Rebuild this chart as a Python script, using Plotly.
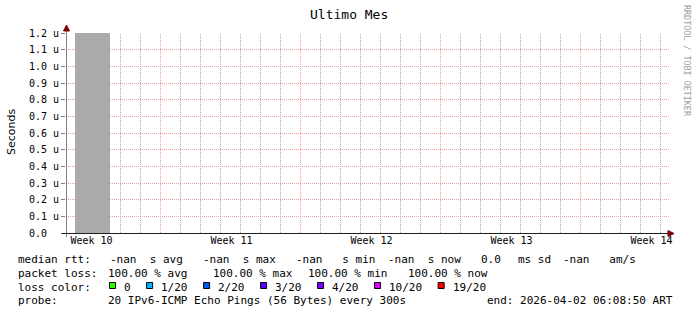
import plotly.graph_objects as go

# ---------------- data ----------------
title_text = "Ultimo Mes"
y_title = "Seconds"
y_ticks = [0.0, 0.1, 0.2, 0.3, 0.4, 0.5, 0.6, 0.7, 0.8, 0.9, 1.0, 1.1, 1.2]
y_tick_labels = ["0.0\u00a0\u00a0", "0.1 u", "0.2 u", "0.3 u", "0.4 u", "0.5 u", "0.6 u",
                 "0.7 u", "0.8 u", "0.9 u", "1.0 u", "1.1 u", "1.2 u"]
# x in days from the left edge of the graph
week_labels = ["Week 10", "Week 11", "Week 12", "Week 13", "Week 14"]
week_label_days = [1.25, 8.25, 15.25, 22.25, 29.25]
week_start_days = [4.7, 11.7, 18.7, 25.7]
day_grid_first = 0.7
n_day_lines = 30
x_range = [-0.025, 30.125]
y_top = 1.2
bar_start_day = [0.4]
bar_end_day = [2.15]
bar_value_us = [1.2]

legend_line1 = ["median rtt:", "-nan  s avg", "-nan  s max", "-nan   s min", "-nan  s now",
                "0.0", "ms sd", "-nan   am/s"]
legend_line2 = ["packet loss:", "100.00 % avg", "100.00 % max", "100.00 % min", "100.00 % now"]
loss_title = "loss color:"
loss_labels = ["0", "1/20", "2/20", "3/20", "4/20", "10/20", "19/20"]
loss_colors = ["#26ff00", "#00b8ff", "#0059ff", "#5e00ff", "#7e00ff", "#dd00ff", "#ff0000"]
probe_line = ["probe:", "20 IPv6-ICMP Echo Pings (56 Bytes) every 300s",
              "end: 2026-04-02 06:08:50 ART"]
watermark = "RRDTOOL / TOBI OETIKER"

# ---------------- layout geometry ----------------
W, H = 697, 315
L, R, T, B = 66, 669, 33, 233
MONO = "DejaVu Sans Mono"


def pxx(px):
    return (px - L) / (R - L)


def pxy(py):
    return (B - py) / (B - T)


def nb(s):
    return s.replace(" ", "\u00a0")


GRID_MINOR = "#b0b0b0"
GRID_MAJOR = "#e8a0a0"

fig = go.Figure()

centers = [(a + b) / 2 for a, b in zip(bar_start_day, bar_end_day)]
widths = [b - a for a, b in zip(bar_start_day, bar_end_day)]
fig.add_trace(go.Bar(x=centers, y=bar_value_us, width=widths,
                     marker=dict(color="#aaaaaa", line=dict(width=0)),
                     hoverinfo="skip", showlegend=False))

# vertical grid (daily minor, weekly major) drawn as dotted line traces
day_days = [day_grid_first + k for k in range(n_day_lines)]
day_days = [d for d in day_days if all(abs(d - w) > 1e-6 for w in week_start_days)]


def vlines(days):
    xs, ys = [], []
    for d in days:
        xs += [d, d, None]
        ys += [0, y_top, None]
    return xs, ys


for days, col in ((day_days, GRID_MINOR), (week_start_days, GRID_MAJOR)):
    xs, ys = vlines(days)
    fig.add_trace(go.Scatter(x=xs, y=ys, mode="lines", connectgaps=False,
                             line=dict(color=col, width=1, dash="1px,1px"),
                             hoverinfo="skip", showlegend=False, cliponaxis=True))

fig.update_layout(
    width=W, height=H, autosize=False,
    margin=dict(l=L, r=W - R, t=T, b=H - B, pad=0),
    paper_bgcolor="white", plot_bgcolor="white",
    showlegend=False, bargap=0,
    font=dict(family=MONO, size=10, color="black"),
    xaxis=dict(range=x_range, type="linear",
               tickmode="array", tickvals=week_label_days, ticktext=week_labels,
               ticks="", showline=False, zeroline=False, showgrid=False,
               tickfont=dict(family=MONO, size=10, color="black"),
               fixedrange=True),
    yaxis=dict(range=[0, y_top], tickmode="array", tickvals=y_ticks, ticktext=y_tick_labels,
               showgrid=True, gridcolor=GRID_MAJOR, griddash="1px,1px", gridwidth=1,
               zeroline=False, showline=False, ticks="outside", ticklen=4,
               tickcolor="#808080", tickwidth=1,
               tickfont=dict(family=MONO, size=10, color="black"), fixedrange=True),
)

shapes = []
# axes
shapes.append(dict(type="line", xref="paper", yref="paper", x0=pxx(66.5), x1=pxx(66.5),
                   y0=pxy(237), y1=pxy(28), line=dict(color="#808080", width=1)))
shapes.append(dict(type="line", xref="paper", yref="paper", x0=pxx(62), x1=pxx(670),
                   y0=pxy(233.5), y1=pxy(233.5), line=dict(color="#202020", width=1)))
# arrows
shapes.append(dict(type="path", xref="paper", yref="paper",
                   path=f"M {pxx(63.5)} {pxy(31)} L {pxx(69.5)} {pxy(31)} L {pxx(66.5)} {pxy(25)} Z",
                   fillcolor="#7f0000", line=dict(color="#7f0000", width=1)))
shapes.append(dict(type="path", xref="paper", yref="paper",
                   path=f"M {pxx(668)} {pxy(230.5)} L {pxx(668)} {pxy(236.5)} L {pxx(674)} {pxy(233.5)} Z",
                   fillcolor="#7f0000", line=dict(color="#7f0000", width=1)))

annotations = []


def text(px, py, s, size=11, anchor="left", color="black", family=MONO, angle=0):
    annotations.append(dict(x=pxx(px), y=pxy(py), xref="paper", yref="paper", text=nb(s),
                            showarrow=False, xanchor=anchor, yanchor="middle", borderpad=0,
                            textangle=angle,
                            font=dict(family=family, size=size, color=color)))


text(348.5, 14, title_text, size=13, anchor="center")
text(11, 132, y_title, size=11, anchor="center", family="DejaVu Sans", angle=-90)
text(687, 61, watermark, size=8.4, anchor="center", color="#a0a0a0", angle=90)

LINE_Y = [259.8, 273.2, 287.0, 300.8]
line1_x = [17, 109, 202, 295, 387, 480, 517, 562]
for x, s in zip(line1_x, legend_line1):
    text(x, LINE_Y[0], s)
line2_x = [17, 107, 211.5, 306.5, 406.5]
for x, s in zip(line2_x, legend_line2):
    text(x, LINE_Y[1], s)
text(17, LINE_Y[2], loss_title)
CW = 6.62
sx = 109
for lab, col in zip(loss_labels, loss_colors):
    shapes.append(dict(type="rect", xref="paper", yref="paper",
                       x0=pxx(sx + 0.5), x1=pxx(sx + 6.5), y0=pxy(282.5), y1=pxy(288.5),
                       fillcolor=col, line=dict(color="black", width=1)))
    lx = sx + 14
    text(lx, LINE_Y[2], lab)
    sx = lx + len(lab) * CW + 16.5
probe_x = [17, 107, 485.5]
for x, s in zip(probe_x, probe_line):
    text(x, LINE_Y[3], s)

fig.update_layout(shapes=shapes, annotations=annotations)
fig.write_html("out.html")
